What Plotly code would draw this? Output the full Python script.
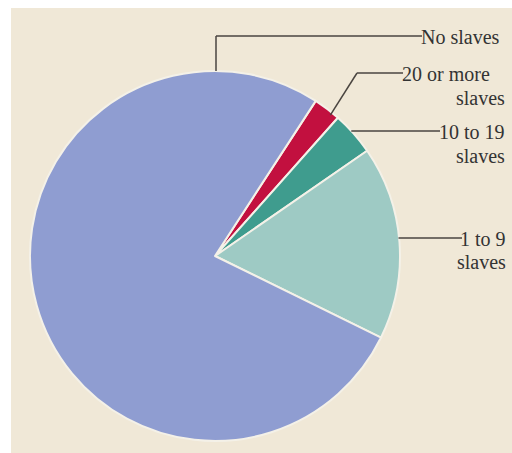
import math
import plotly.graph_objects as go

# Data (share of slaveholding families)
categories = ["20 or more slaves", "10 to 19 slaves", "1 to 9 slaves", "No slaves"]
values = [2.4, 3.8, 16.9, 76.9]
colors = ["#c2103f", "#3f9c8e", "#9ecac4", "#8f9dd1"]
label_first = ["20 or more", "10 to 19", "1 to 9", "No slaves"]
label_second = ["slaves", "slaves", "slaves", ""]

W, H = 512, 453
ML, MT = 11, 8
PW, PH = W - ML, H - MT

def px(x):
    return (x - ML) / PW

def py(y):
    return (H - y) / PH

# pie geometry in page pixels
cx, cy, R = 215, 256, 185
rotation = 33

fig = go.Figure()
fig.add_trace(go.Pie(
    labels=categories, values=values, sort=False, direction="clockwise",
    rotation=rotation, textinfo="none", hoverinfo="label+percent",
    marker=dict(colors=colors, line=dict(color="#f4f1e8", width=2)),
    domain=dict(x=[px(cx - R), px(cx + R)], y=[py(cy + R), py(cy - R)]),
    showlegend=False,
))

shapes = [dict(type="rect", xref="paper", yref="paper", x0=0, x1=1, y0=0, y1=1,
               fillcolor="#f0e8d7", line=dict(width=0), layer="below")]
annotations = []
line_style = dict(color="#4a4540", width=1.5)
font = dict(family="Liberation Serif", size=20, color="#333333")

# mid angles of slices (clockwise from 12 o'clock)
total = sum(values)
angles = []
a = rotation
for v in values:
    span = v / total * 360
    angles.append(a + span / 2)
    a += span

def edge(angle_deg, r=R):
    t = math.radians(angle_deg)
    return cx + r * math.sin(t), cy - r * math.cos(t)

def seg(xa, ya, xb, yb):
    shapes.append(dict(type="line", xref="paper", yref="paper", x0=px(xa), y0=py(ya),
                       x1=px(xb), y1=py(yb), line=line_style))

# 20 or more: diagonal then horizontal
x0, y0 = edge(angles[0] + 2, R - 3)
seg(x0, y0, 357, 73)
seg(357, 73, 403, 73)
# 10 to 19: horizontal
x0, y0 = edge(angles[1], R - 3)
seg(x0, 131, 440, 131)
# 1 to 9: horizontal
x0, y0 = edge(angles[2], R - 1)
seg(x0, 238, 462, 238)
# No slaves: vertical from top of pie then horizontal
seg(216, cy - R, 216, 36)
seg(216, 36, 422, 36)

first_pos = [(492, 74), (507, 132), (508, 239), (502, 37)]
second_pos = [(507, 98), (507, 156), (508, 262), None]
for i in range(4):
    fx, fy = first_pos[i]
    annotations.append(dict(xref="paper", yref="paper", x=px(fx), y=py(fy),
                            text=label_first[i], showarrow=False, xanchor="right",
                            yanchor="middle", font=font))
    if second_pos[i] is not None:
        sx, sy = second_pos[i]
        annotations.append(dict(xref="paper", yref="paper", x=px(sx), y=py(sy),
                                text=label_second[i], showarrow=False, xanchor="right",
                                yanchor="middle", font=font))

fig.update_layout(
    width=W, height=H, margin=dict(l=ML, r=0, t=MT, b=0),
    paper_bgcolor="white", plot_bgcolor="white",
    shapes=shapes, annotations=annotations,
)
fig.write_html(
    "out.html",
    config={"displayModeBar": False},
    post_script="document.body.style.margin='0';document.body.style.overflow='hidden';",
)
